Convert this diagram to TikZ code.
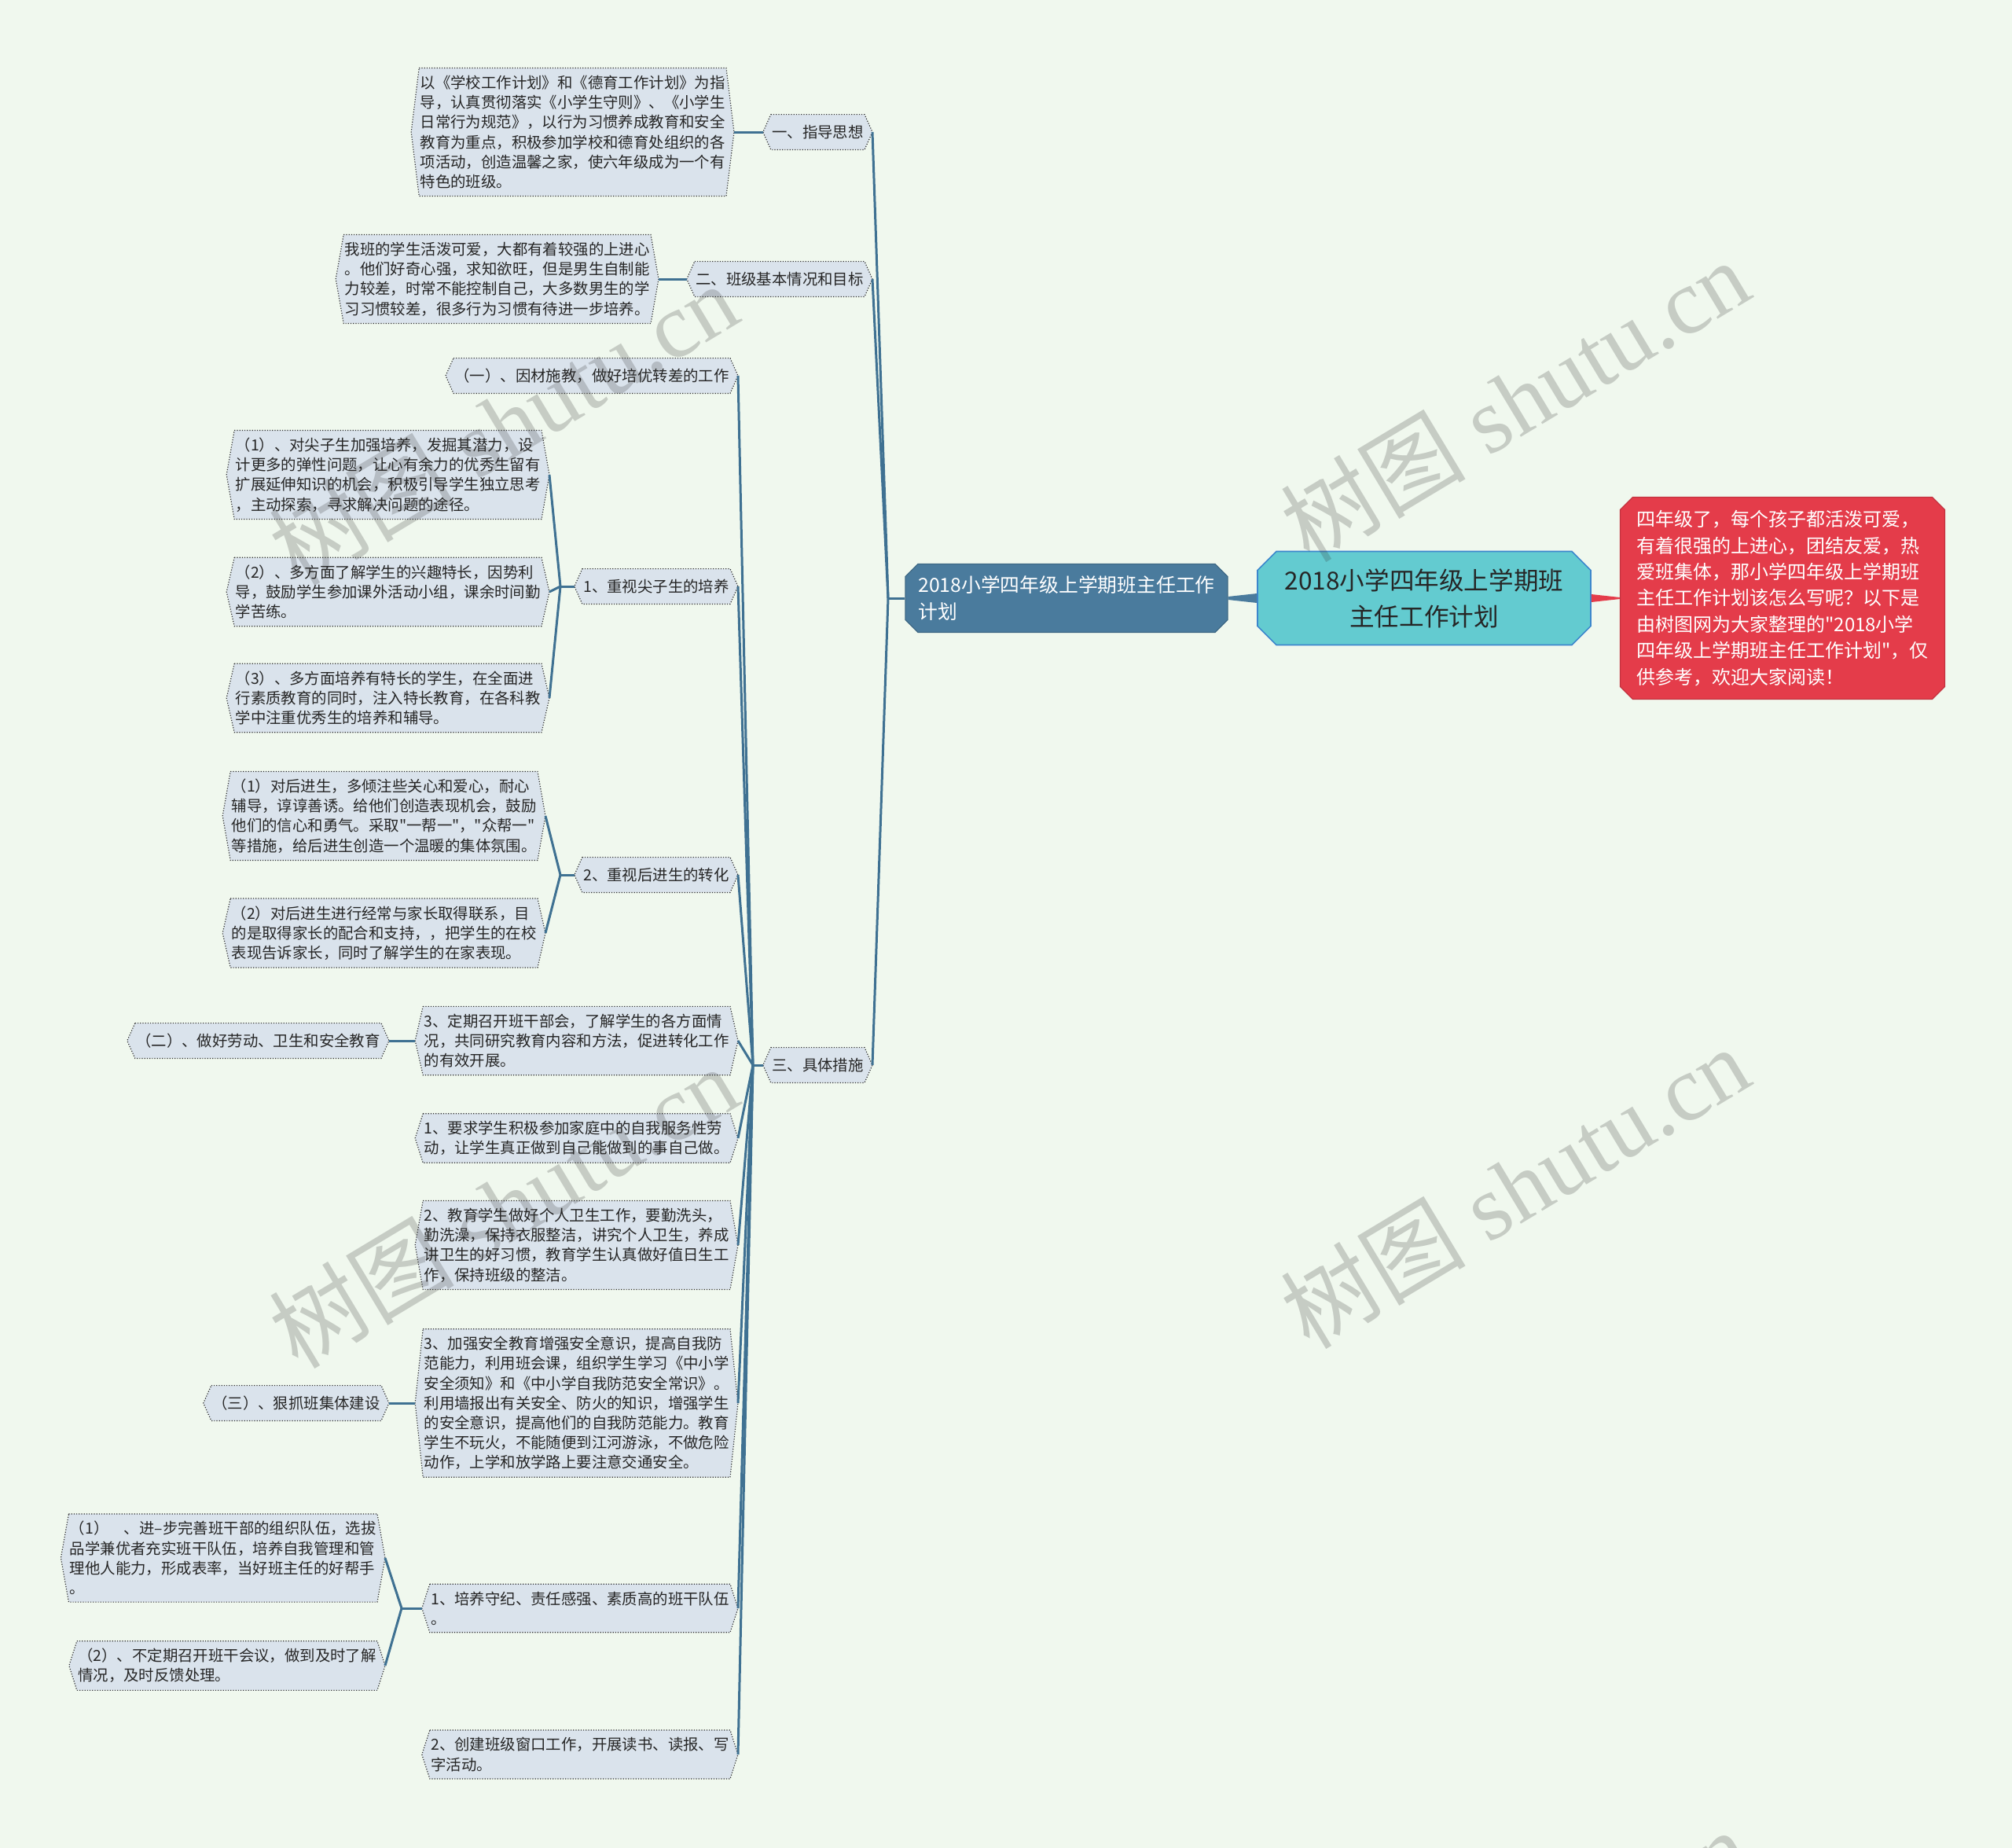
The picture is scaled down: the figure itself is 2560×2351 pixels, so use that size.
\documentclass[tikz,border=0pt]{standalone}
\usepackage{fontspec}
\usepackage{tikz}
\usetikzlibrary{calc,shapes.misc,backgrounds}
\newfontfamily\cjk{Noto Sans CJK SC}
\newfontfamily\wmserif{Liberation Serif}
\definecolor{Mint}{HTML}{F0F8EE}
\definecolor{Leaf}{HTML}{DAE3EC}
\definecolor{LinkBlue}{HTML}{3F7192}
\definecolor{MainBlue}{HTML}{4A7B9D}
\definecolor{RootCyan}{HTML}{63CBD0}
\definecolor{RootEdge}{HTML}{3C86CC}
\definecolor{NoteRed}{HTML}{E43C4A}

\begin{document}
\begin{tikzpicture}[x=0.5pt,y=-0.5pt,
    leaf/.style={font=\cjk\fontsize{9.7}{12.6}\selectfont,align=left,inner xsep=5.5pt,inner ysep=4.5pt,text=black!85},
    tag/.style={leaf,minimum height=22pt},
    hexline/.style={draw=black!80,densely dotted,line width=0.6pt,fill=Leaf},
    link/.style={LinkBlue,line width=1.5pt},
    wmark/.style={opacity=0.22,text=black!80,rotate=31,font=\wmserif\fontsize{59}{59}\selectfont}]
  \begin{scope}[on background layer]
    \fill[Mint] (0,0) rectangle (2560,2351);
  \end{scope}
  \useasboundingbox (0,0) rectangle (2560,2351);
  \clip (0,0) rectangle (2560,2351);

  % centre and summary
  \node[chamfered rectangle,chamfered rectangle xsep=6pt,chamfered rectangle ysep=6pt,draw=RootEdge,line width=0.8pt,fill=RootCyan,
    minimum width=212pt,minimum height=59.5pt,align=center,text=black!85,font=\cjk\fontsize{15.8}{23}\selectfont] (root) at (1812,761)
    {2018小学四年级上学期班\\主任工作计划};
  \node[chamfered rectangle,chamfered rectangle xsep=4pt,chamfered rectangle ysep=4pt,draw=NoteRed!85!black,line width=0.6pt,fill=NoteRed,
    minimum width=206.5pt,minimum height=128.5pt,align=left,text=white,font=\cjk\fontsize{12}{16.7}\selectfont] (note) at (2268,761)
    {四年级了，每个孩子都活泼可爱，\\有着很强的上进心，团结友爱，热\\爱班集体，那小学四年级上学期班\\主任工作计划该怎么写呢？以下是\\由树图网为大家整理的"2018小学\\四年级上学期班主任工作计划"，仅\\供参考，欢迎大家阅读！};
  \node[chamfered rectangle,chamfered rectangle xsep=4pt,chamfered rectangle ysep=4pt,draw=MainBlue!85!black,line width=0.6pt,fill=MainBlue,
    minimum width=205pt,minimum height=43.5pt,align=left,text=white,font=\cjk\fontsize{12.4}{17}\selectfont] (main) at (1357,761)
    {2018小学四年级上学期班主任工作\\计划};

  \fill[MainBlue] ($(main.east)+(0,-2)$) -- ($(root.west)+(0,-6)$) -- ($(root.west)+(0,6)$) -- ($(main.east)+(0,2)$) -- cycle;
  \fill[NoteRed] ($(root.east)+(0,-5)$) -- ($(note.west)+(0,-1)$) -- ($(note.west)+(0,1)$) -- ($(root.east)+(0,5)$) -- cycle;

  % first level
  \node[tag,anchor=east] (gd) at (1110,168) {一、指导思想};
  \node[tag,anchor=east] (jb) at (1110,355) {二、班级基本情况和目标};
  \node[tag,anchor=east] (cs) at (1110,1355) {三、具体措施};

  \node[leaf,anchor=east] (gdT) at (934,168)
    {以《学校工作计划》和《德育工作计划》为指\\导，认真贯彻落实《小学生守则》、《小学生\\日常行为规范》，以行为习惯养成教育和安全\\教育为重点，积极参加学校和德育处组织的各\\项活动，创造温馨之家，使六年级成为一个有\\特色的班级。};
  \node[leaf,anchor=east] (jbT) at (838,355)
    {我班的学生活泼可爱，大都有着较强的上进心\\。他们好奇心强，求知欲旺，但是男生自制能\\力较差，时常不能控制自己，大多数男生的学\\习习惯较差，很多行为习惯有待进一步培养。};

  % children of cs
  \node[tag,anchor=east] (py) at (939,478) {（一）、因材施教，做好培优转差的工作};
  \node[tag,anchor=east] (zs) at (939,746) {1、重视尖子生的培养};
  \node[tag,anchor=east] (hj) at (939,1113) {2、重视后进生的转化};
  \node[leaf,anchor=east] (bg) at (939,1324)
    {3、定期召开班干部会，了解学生的各方面情\\况，共同研究教育内容和方法，促进转化工作\\的有效开展。};
  \node[leaf,anchor=east] (lw) at (939,1448)
    {1、要求学生积极参加家庭中的自我服务性劳\\动，让学生真正做到自己能做到的事自己做。};
  \node[leaf,anchor=east] (ws) at (939,1584)
    {2、教育学生做好个人卫生工作，要勤洗头，\\勤洗澡，保持衣服整洁，讲究个人卫生，养成\\讲卫生的好习惯，教育学生认真做好值日生工\\作，保持班级的整洁。};
  \node[leaf,anchor=east] (aq) at (939,1785)
    {3、加强安全教育增强安全意识，提高自我防\\范能力，利用班会课，组织学生学习《中小学\\安全须知》和《中小学自我防范安全常识》。\\利用墙报出有关安全、防火的知识，增强学生\\的安全意识，提高他们的自我防范能力。教育\\学生不玩火，不能随便到江河游泳，不做危险\\动作，上学和放学路上要注意交通安全。};
  \node[leaf,anchor=east] (dw) at (939,2046)
    {1、培养守纪、责任感强、素质高的班干队伍\\。};
  \node[leaf,anchor=east] (ck) at (939,2232)
    {2、创建班级窗口工作，开展读书、读报、写\\字活动。};

  % deeper levels
  \node[leaf,anchor=east] (zs1) at (699,604)
    {（1）、对尖子生加强培养，发掘其潜力，设\\计更多的弹性问题，让心有余力的优秀生留有\\扩展延伸知识的机会，积极引导学生独立思考\\，主动探索，寻求解决问题的途径。};
  \node[leaf,anchor=east] (zs2) at (699,753)
    {（2）、多方面了解学生的兴趣特长，因势利\\导，鼓励学生参加课外活动小组，课余时间勤\\学苦练。};
  \node[leaf,anchor=east] (zs3) at (699,888)
    {（3）、多方面培养有特长的学生，在全面进\\行素质教育的同时，注入特长教育，在各科教\\学中注重优秀生的培养和辅导。};
  \node[leaf,anchor=east] (hj1) at (694,1038)
    {（1）对后进生，多倾注些关心和爱心，耐心\\辅导，谆谆善诱。给他们创造表现机会，鼓励\\他们的信心和勇气。采取"一帮一"，"众帮一"\\等措施，给后进生创造一个温暖的集体氛围。};
  \node[leaf,anchor=east] (hj2) at (694,1187)
    {（2）对后进生进行经常与家长取得联系，目\\的是取得家长的配合和支持，，把学生的在校\\表现告诉家长，同时了解学生的在家表现。};
  \node[tag,anchor=east] (ld) at (495,1324) {（二）、做好劳动、卫生和安全教育};
  \node[tag,anchor=east] (jt) at (495,1785) {（三）、狠抓班集体建设};
  \node[leaf,anchor=east] (dw1) at (490,1982)
    {（1）　、进–步完善班干部的组织队伍，选拔\\品学兼优者充实班干队伍，培养自我管理和管\\理他人能力，形成表率，当好班主任的好帮手\\。};
  \node[leaf,anchor=east] (dw2) at (490,2119)
    {（2）、不定期召开班干会议，做到及时了解\\情况，及时反馈处理。};

  \begin{scope}[on background layer]
    \foreach \n in {gd,jb,cs,gdT,jbT,py,zs,hj,bg,lw,ws,aq,dw,ck,zs1,zs2,zs3,hj1,hj2,ld,jt,dw1,dw2}
      \draw[hexline] ([xshift=5pt]\n.north west) -- ([xshift=-5pt]\n.north east) -- (\n.east)
        -- ([xshift=-5pt]\n.south east) -- ([xshift=5pt]\n.south west) -- (\n.west) -- cycle;
  \end{scope}

  % connectors
  \coordinate (mfan) at (1130,761);
  \coordinate (cfan) at (958,1355);
  \coordinate (zfan) at (713,746);
  \coordinate (hfan) at (713,1113);
  \coordinate (dfan) at (511,2046);
  \draw[link] (main.west) -- (mfan);
  \foreach \b in {gd,jb,cs} \draw[link] (mfan) -- (\b.east);
  \draw[link] (gdT.east) -- (gd.west);
  \draw[link] (jbT.east) -- (jb.west);
  \draw[link] (cs.west) -- (cfan);
  \foreach \c in {py,zs,hj,bg,lw,ws,aq,dw,ck} \draw[link] (cfan) -- (\c.east);
  \draw[link] (zs.west) -- (zfan);
  \foreach \c in {zs1,zs2,zs3} \draw[link] (zfan) -- (\c.east);
  \draw[link] (hj.west) -- (hfan);
  \foreach \c in {hj1,hj2} \draw[link] (hfan) -- (\c.east);
  \draw[link] (dw.west) -- (dfan);
  \foreach \c in {dw1,dw2} \draw[link] (dfan) -- (\c.east);
  \draw[link] (bg.west) -- (ld.east);
  \draw[link] (aq.west) -- (jt.east);

  % watermark
  \node[wmark] (wm1) at (1927,509) {{\cjk 树图} shutu.cn};
  \node[wmark] (wm2) at (1927,1510) {{\cjk 树图} shutu.cn};
  \node[wmark] (wm3) at (640,539) {{\cjk 树图} shutu.cn};
  \node[wmark] (wm4) at (640,1535) {{\cjk 树图} shutu.cn};
  \node[wmark] (wm5) at (640,2523) {{\cjk 树图} shutu.cn};
  \node[wmark] (wm6) at (1927,2506) {{\cjk 树图} shutu.cn};
\end{tikzpicture}
\end{document}
